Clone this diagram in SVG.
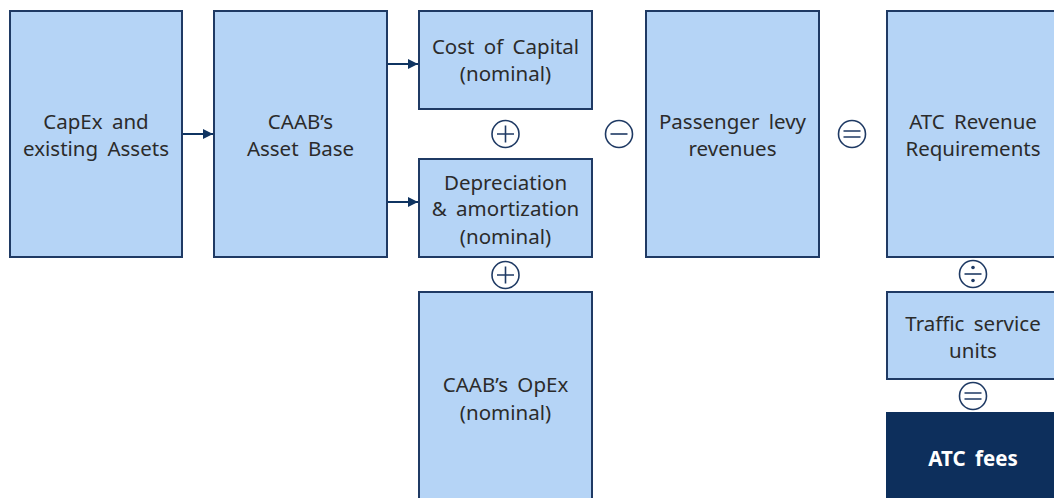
<svg xmlns="http://www.w3.org/2000/svg" width="1054" height="498" viewBox="0 0 1054 498">
<style>
.box{fill:#B5D4F6;stroke:#1F3A64;stroke-width:2}
.dark{fill:#0D2F5C;stroke:#0D2F5C;stroke-width:2}
.t{font-family:"Noto Sans","Open Sans",sans-serif;font-size:20.5px;fill:#2B2B2B;text-anchor:middle;word-spacing:4px}
.w{font-family:"Noto Sans","Open Sans",sans-serif;font-size:20.5px;font-weight:bold;fill:#FFFFFF;text-anchor:middle;word-spacing:4px}
.op{fill:#FFFFFF;stroke:#1F3A64;stroke-width:1.6}
.sym{stroke:#1F3A64;stroke-width:1.6;fill:none}
.con{stroke:#0F3461;stroke-width:2;fill:none}
</style>
<defs>
<marker id="ah" viewBox="0 0 10 10" refX="10" refY="5" markerWidth="5.5" markerHeight="5" orient="auto" markerUnits="strokeWidth">
<path d="M0,0 L10,5 L0,10 Z" fill="#0F3461"/>
</marker>
</defs>
<g id="connectors">
<line class="con" x1="183" y1="134" x2="213" y2="134" marker-end="url(#ah)"/>
<line class="con" x1="388" y1="64" x2="418" y2="64" marker-end="url(#ah)"/>
<line class="con" x1="388" y1="202" x2="418" y2="202" marker-end="url(#ah)"/>
</g>
<g id="capex">
<rect class="box" x="10" y="11" width="172" height="246"/>
<text class="t" x="96" y="129">CapEx and</text>
<text class="t" x="96" y="156">existing Assets</text>
</g>
<g id="assetbase">
<rect class="box" x="214" y="11" width="173" height="246"/>
<text class="t" x="300.5" y="129">CAAB’s</text>
<text class="t" x="300.5" y="156">Asset Base</text>
</g>
<g id="costcapital">
<rect class="box" x="419" y="11" width="173" height="98"/>
<text class="t" x="505.5" y="54">Cost of Capital</text>
<text class="t" x="505.5" y="81">(nominal)</text>
</g>
<g id="depreciation">
<rect class="box" x="419" y="159" width="173" height="98"/>
<text class="t" x="505.5" y="190">Depreciation</text>
<text class="t" x="505.5" y="216">&amp; amortization</text>
<text class="t" x="505.5" y="244">(nominal)</text>
</g>
<g id="opex">
<rect class="box" x="419" y="292" width="173" height="215"/>
<text class="t" x="505.5" y="392">CAAB’s OpEx</text>
<text class="t" x="505.5" y="420">(nominal)</text>
</g>
<g id="passenger">
<rect class="box" x="646" y="11" width="173" height="246"/>
<text class="t" x="732.5" y="129">Passenger levy</text>
<text class="t" x="732.5" y="156">revenues</text>
</g>
<g id="atcrevenue">
<rect class="box" x="887" y="11" width="173" height="246"/>
<text class="t" x="973" y="129">ATC Revenue</text>
<text class="t" x="973" y="156">Requirements</text>
</g>
<g id="traffic">
<rect class="box" x="887" y="292" width="173" height="87"/>
<text class="t" x="973" y="331">Traffic service</text>
<text class="t" x="973" y="358">units</text>
</g>
<g id="atcfees">
<rect class="dark" x="887" y="413" width="173" height="95"/>
<text class="w" x="973" y="466">ATC fees</text>
</g>
<g id="op-plus1">
<circle class="op" cx="505.5" cy="134" r="13.5"/>
<path class="sym" d="M497,134 H514 M505.5,125.5 V142.5"/>
</g>
<g id="op-plus2">
<circle class="op" cx="505.5" cy="275" r="13.5"/>
<path class="sym" d="M497,275 H514 M505.5,266.5 V283.5"/>
</g>
<g id="op-minus">
<circle class="op" cx="619" cy="134" r="13.5"/>
<path class="sym" d="M610.5,134 H627.5"/>
</g>
<g id="op-equals1">
<circle class="op" cx="852" cy="134" r="13.5"/>
<path class="sym" d="M843.5,131 H860.5 M843.5,137 H860.5"/>
</g>
<g id="op-divide">
<circle class="op" cx="973" cy="274" r="13.5"/>
<path class="sym" d="M964.5,274 H981.5"/>
<circle cx="973" cy="267.5" r="1.8" fill="#1F3A64"/>
<circle cx="973" cy="280.5" r="1.8" fill="#1F3A64"/>
</g>
<g id="op-equals2">
<circle class="op" cx="973" cy="396" r="13.5"/>
<path class="sym" d="M964.5,393 H981.5 M964.5,399 H981.5"/>
</g>
</svg>
